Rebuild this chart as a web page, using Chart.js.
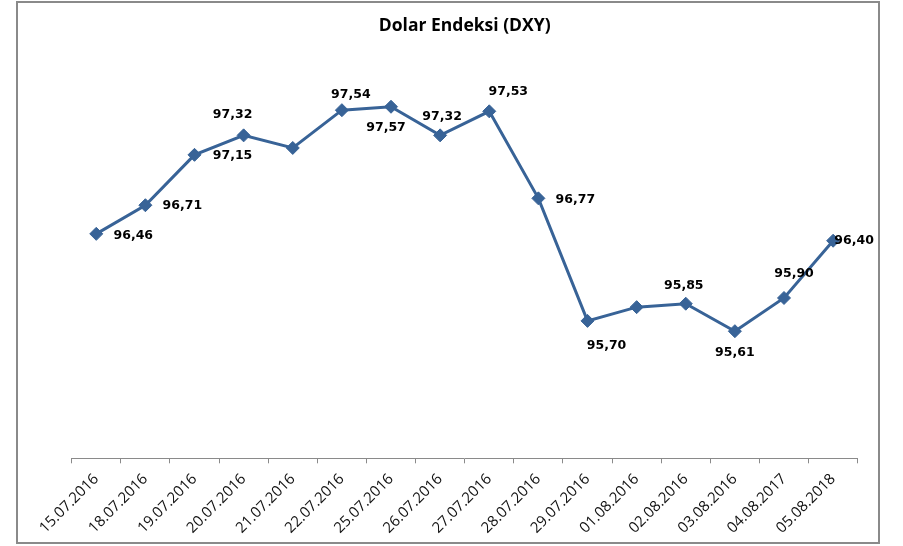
<!DOCTYPE html>
<html>
<head>
<meta charset="utf-8">
<script src="https://cdn.jsdelivr.net/npm/chart.js@4.4.1/dist/chart.umd.min.js"></script>
<style>
  html, body { margin: 0; padding: 0; background: #ffffff; }
  #wrap { width: 903px; height: 546px; position: relative; }
</style>
</head>
<body>
<div id="wrap"><canvas id="c" width="903" height="546"></canvas></div>
<script>
// ---- data ----
const chartTitle = 'Dolar Endeksi (DXY)';
const categories = ['15.07.2016','18.07.2016','19.07.2016','20.07.2016','21.07.2016','22.07.2016','25.07.2016','26.07.2016','27.07.2016','28.07.2016','29.07.2016','01.08.2016','02.08.2016','03.08.2016','04.08.2017','05.08.2018'];
const dxyValues = [96.46, 96.71, 97.15, 97.32, 97.21, 97.54, 97.57, 97.32, 97.53, 96.77, 95.70, 95.82, 95.85, 95.61, 95.90, 96.40];
const showLabel = [true, true, true, true, false, true, true, true, true, true, true, false, true, true, true, true];

// ---- label placement (style, not data) ----
const labelDx = [37, 37, 38, -11, 0, 9, -5, 2, 19, 37, 19, 0, -2, 0, 10, 21];
const labelDy = [1.5, 1, 0.5, -21, 0, -15, 21, -19, -20, 1, 25, 0, -18, 22, -24, 0.5];

const lineColor = '#386397';

const framePlugin = {
  id: 'frame',
  beforeDraw(chart) {
    const ctx = chart.ctx;
    ctx.save();
    ctx.fillStyle = '#ffffff';
    ctx.fillRect(0, 0, chart.width, chart.height);
    ctx.strokeStyle = '#8a8a8a';
    ctx.lineWidth = 2;
    ctx.strokeRect(17, 2, 862, 541);
    ctx.restore();
  }
};

const valueLabelPlugin = {
  id: 'valueLabels',
  afterDatasetsDraw(chart) {
    const ctx = chart.ctx;
    const meta = chart.getDatasetMeta(0);
    const ds = chart.data.datasets[0];
    ctx.save();
    ctx.font = 'bold 12.5px "DejaVu Sans"';
    ctx.fillStyle = '#000000';
    ctx.textAlign = 'center';
    ctx.textBaseline = 'middle';
    meta.data.forEach((pt, i) => {
      if (!showLabel[i]) return;
      const txt = ds.data[i].toFixed(2).replace('.', ',');
      ctx.fillText(txt, pt.x + labelDx[i], pt.y + labelDy[i]);
    });
    ctx.restore();
  }
};

new Chart(document.getElementById('c'), {
  type: 'line',
  data: {
    labels: categories,
    datasets: [{
      label: chartTitle,
      data: dxyValues,
      borderColor: lineColor,
      backgroundColor: lineColor,
      borderWidth: 3,
      tension: 0,
      pointStyle: 'rectRot',
      pointRadius: 6.5,
      pointBorderWidth: 1,
      pointBackgroundColor: lineColor,
      pointBorderColor: lineColor
    }]
  },
  options: {
    responsive: false,
    animation: false,
    devicePixelRatio: 1,
    layout: { padding: { left: 71.7, right: 45.3, top: 3, bottom: 3 } },
    plugins: {
      legend: { display: false },
      tooltip: { enabled: false },
      title: {
        display: true,
        text: chartTitle,
        color: '#000000',
        font: { family: '"Open Sans"', size: 17.5, weight: 'bold', lineHeight: 1.2 },
        padding: { top: 12.5, bottom: 21 }
      }
    },
    scales: {
      x: {
        offset: true,
        grid: { display: true, drawOnChartArea: false, drawTicks: true, tickLength: 5, color: '#8a8a8a', offset: true },
        border: { display: true, color: '#8a8a8a', width: 1 },
        ticks: {
          color: '#111111',
          font: { family: '"Open Sans"', size: 15 },
          minRotation: 45,
          maxRotation: 45,
          autoSkip: false,
          padding: 7
        },
        afterFit(scale) { scale.height = 84.7; }
      },
      y: {
        display: false,
        min: 94.5,
        max: 98
      }
    }
  },
  plugins: [framePlugin, valueLabelPlugin]
});
</script>
</body>
</html>
